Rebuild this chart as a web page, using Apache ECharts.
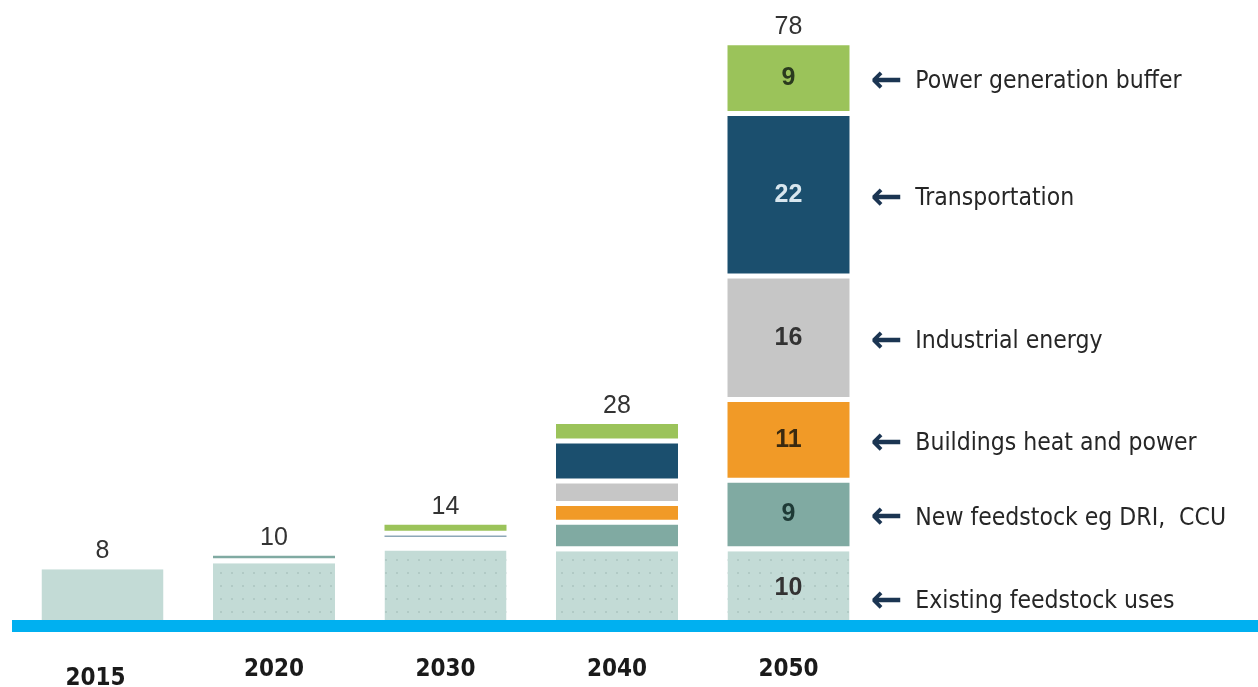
<!DOCTYPE html>
<html>
<head>
<meta charset="utf-8">
<title>Hydrogen demand</title>
<script src="https://cdn.jsdelivr.net/npm/echarts@6/dist/echarts.min.js"></script>
<style>
  html, body { margin: 0; padding: 0; background: #fff; }
  #container { width: 1258px; height: 687px; }
</style>
</head>
<body>
<div id="container"></div>
<script>
// years and totals printed above each bar
const years = ['2015', '2020', '2030', '2040', '2050'];
const totals = [8, 10, 14, 28, 78];

// segment heights (bottom to top)
const existingFeedstock = [8.0, 8.8, 10.5, 10.4, 10.4];
const newFeedstock = [0, 1.0, 0.35, 3.5, 9.1];
const buildings = [0, 0, 0.3, 2.5, 10.7];
const industrial = [0, 0, 0.55, 3.0, 16.4];
const transport = [0, 0, 0.75, 5.3, 21.6];
const powerBuffer = [0, 0, 1.45, 2.6, 9.4];

const segmentNames = [
  'Existing feedstock uses',
  'New feedstock eg DRI,  CCU',
  'Buildings heat and power',
  'Industrial energy',
  'Transportation',
  'Power generation buffer'
];
const segmentData = [existingFeedstock, newFeedstock, buildings, industrial, transport, powerBuffer];
const segmentColors = ['#c3dbd6', '#80aaa2', '#f19a27', '#c6c6c6', '#1b4f6e', '#9bc35a'];
const valueColors = ['#333333', '#1e3a36', '#3a2a10', '#333333', '#d8e6ee', '#2a3a1e'];
const labelYear = '2050';

let myChart = echarts.init(document.getElementById('container'));

const lastIdx = years.indexOf(labelYear);
let base = 0;
let series = segmentData.map(function (arr, k) {
  let v = arr[lastIdx];
  let mid = base + v / 2;
  base += v;
  let s = {
    name: segmentNames[k],
    type: 'bar',
    stack: 'total',
    barWidth: 127,
    itemStyle: {
      color: segmentColors[k],
      borderColor: '#ffffff',
      borderWidth: 2.5
    },
    label: {
      show: true,
      position: 'inside',
      fontFamily: 'Liberation Sans, Arial, sans-serif',
      fontSize: 25,
      fontWeight: 'bold',
      color: valueColors[k],
      formatter: function (p) {
        return p.name === labelYear ? Math.round(p.value) : '';
      }
    },
    emphasis: { disabled: true },
    data: arr.slice(),
    markPoint: {
      symbol: 'circle',
      symbolSize: 0,
      silent: true,
      data: [{ coord: [labelYear, mid] }],
      label: {
        show: true,
        position: 'right',
        distance: 82,
        offset: [0, k === 0 ? 14 : 4],
        formatter: '{a|\u2190}{t|' + segmentNames[k] + '}',
        rich: {
          a: {
            fontFamily: 'DejaVu Sans',
            fontWeight: 'bold',
            fontSize: 38,
            color: '#1b3552'
          },
          t: {
            fontFamily: 'DejaVu Sans Condensed, sans-serif',
            fontSize: 24.5,
            color: '#262626',
            padding: [0, 0, 0, 13]
          }
        }
      }
    }
  };
  if (k === 0) {
    s.itemStyle.decal = {
      symbol: 'rect',
      symbolSize: 1,
      color: 'rgba(150,178,172,0.4)',
      dashArrayX: [2, 9],
      dashArrayY: [2, 11]
    };
    s.data[0] = { value: arr[0], itemStyle: { decal: { symbol: 'none' } } };
  }
  return s;
});

// empty top series carries the total labels
series.push({
  name: 'total',
  type: 'bar',
  stack: 'total',
  barWidth: 127,
  itemStyle: { color: 'transparent', borderWidth: 0 },
  label: {
    show: true,
    position: 'top',
    distance: 3,
    fontFamily: 'Liberation Sans, Arial, sans-serif',
    fontSize: 25,
    color: '#333333',
    formatter: function (p) { return totals[p.dataIndex]; }
  },
  data: totals.map(function () { return 0; })
});

let option = {
  animation: false,
  grid: {
    left: 16.75,
    right: 383.75,
    top: 24.6,
    bottom: 60,
    outerBoundsMode: 'none'
  },
  xAxis: {
    type: 'category',
    data: years,
    axisLine: { show: false },
    axisTick: { show: false },
    axisLabel: {
      margin: 31,
      formatter: function (v, i) {
        return i === 0 ? '{low|' + v + '}' : '{y|' + v + '}';
      },
      rich: {
        y: {
          fontFamily: 'DejaVu Sans Condensed, sans-serif',
          fontWeight: 'bold',
          fontSize: 24,
          color: '#1a1a1a'
        },
        low: {
          fontFamily: 'DejaVu Sans Condensed, sans-serif',
          fontWeight: 'bold',
          fontSize: 24,
          color: '#1a1a1a',
          padding: [9, 14, 0, 0]
        }
      }
    }
  },
  yAxis: {
    type: 'value',
    min: 0,
    max: 80,
    show: false,
    splitLine: { show: false }
  },
  graphic: [{
    type: 'rect',
    left: 12,
    top: 620,
    z: 100,
    shape: { width: 1246, height: 12 },
    style: { fill: '#00b0f0' }
  }],
  series: series
};

myChart.setOption(option);
window.onresize = myChart.resize;
</script>
</body>
</html>
